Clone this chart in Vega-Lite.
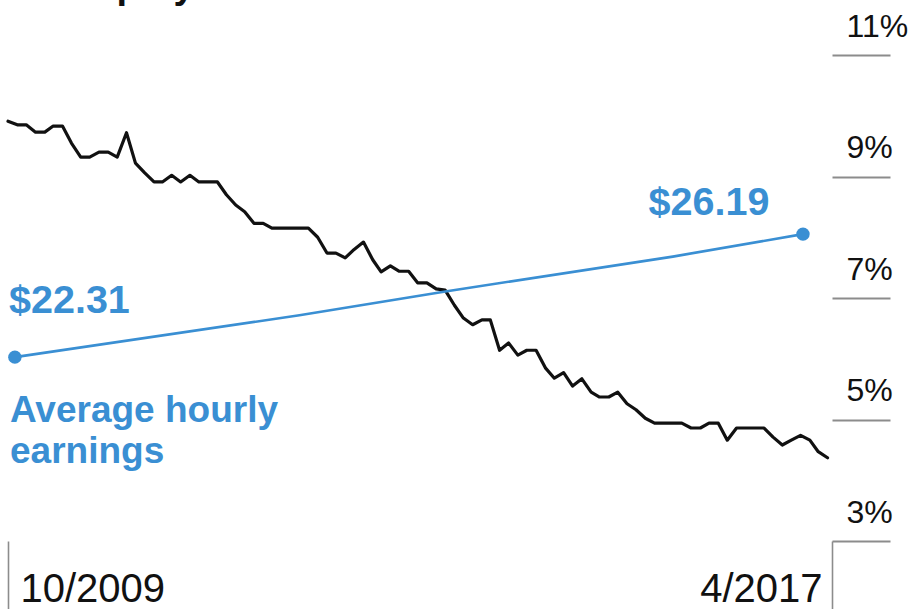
{
  "$schema": "https://vega.github.io/schema/vega-lite/v6.json",
  "width": 824,
  "height": 486,
  "autosize": {"type": "none"},
  "padding": {"left": 8, "top": 55, "right": 79, "bottom": 68},
  "background": "white",
  "config": {"view": {"stroke": null}, "font": "Liberation Sans"},
  "datasets": {
    "unemp": [
      {"date": "2009-10-01", "rate": 9.91}, {"date": "2009-11-01", "rate": 9.85}, {"date": "2009-12-01", "rate": 9.85},
      {"date": "2010-01-01", "rate": 9.73}, {"date": "2010-02-01", "rate": 9.73}, {"date": "2010-03-01", "rate": 9.83},
      {"date": "2010-04-01", "rate": 9.83}, {"date": "2010-05-01", "rate": 9.55}, {"date": "2010-06-01", "rate": 9.32},
      {"date": "2010-07-01", "rate": 9.32}, {"date": "2010-08-01", "rate": 9.40}, {"date": "2010-09-01", "rate": 9.40},
      {"date": "2010-10-01", "rate": 9.32}, {"date": "2010-11-01", "rate": 9.72}, {"date": "2010-12-01", "rate": 9.22},
      {"date": "2011-01-01", "rate": 9.06}, {"date": "2011-02-01", "rate": 8.91}, {"date": "2011-03-01", "rate": 8.91},
      {"date": "2011-04-01", "rate": 9.02}, {"date": "2011-05-01", "rate": 8.91}, {"date": "2011-06-01", "rate": 9.02},
      {"date": "2011-07-01", "rate": 8.91}, {"date": "2011-08-01", "rate": 8.91}, {"date": "2011-09-01", "rate": 8.91},
      {"date": "2011-10-01", "rate": 8.70}, {"date": "2011-11-01", "rate": 8.53}, {"date": "2011-12-01", "rate": 8.42},
      {"date": "2012-01-01", "rate": 8.23}, {"date": "2012-02-01", "rate": 8.23}, {"date": "2012-03-01", "rate": 8.15},
      {"date": "2012-04-01", "rate": 8.15}, {"date": "2012-05-01", "rate": 8.15}, {"date": "2012-06-01", "rate": 8.15},
      {"date": "2012-07-01", "rate": 8.15}, {"date": "2012-08-01", "rate": 8.00}, {"date": "2012-09-01", "rate": 7.74},
      {"date": "2012-10-01", "rate": 7.74}, {"date": "2012-11-01", "rate": 7.66}, {"date": "2012-12-01", "rate": 7.80},
      {"date": "2013-01-01", "rate": 7.92}, {"date": "2013-02-01", "rate": 7.63}, {"date": "2013-03-01", "rate": 7.43},
      {"date": "2013-04-01", "rate": 7.53}, {"date": "2013-05-01", "rate": 7.44}, {"date": "2013-06-01", "rate": 7.44},
      {"date": "2013-07-01", "rate": 7.25}, {"date": "2013-08-01", "rate": 7.25}, {"date": "2013-09-01", "rate": 7.15},
      {"date": "2013-10-01", "rate": 7.13}, {"date": "2013-11-01", "rate": 6.88}, {"date": "2013-12-01", "rate": 6.67},
      {"date": "2014-01-01", "rate": 6.56}, {"date": "2014-02-01", "rate": 6.64}, {"date": "2014-03-01", "rate": 6.64},
      {"date": "2014-04-01", "rate": 6.14}, {"date": "2014-05-01", "rate": 6.26}, {"date": "2014-06-01", "rate": 6.06},
      {"date": "2014-07-01", "rate": 6.14}, {"date": "2014-08-01", "rate": 6.14}, {"date": "2014-09-01", "rate": 5.85},
      {"date": "2014-10-01", "rate": 5.68}, {"date": "2014-11-01", "rate": 5.77}, {"date": "2014-12-01", "rate": 5.55},
      {"date": "2015-01-01", "rate": 5.67}, {"date": "2015-02-01", "rate": 5.45}, {"date": "2015-03-01", "rate": 5.37},
      {"date": "2015-04-01", "rate": 5.37}, {"date": "2015-05-01", "rate": 5.45}, {"date": "2015-06-01", "rate": 5.26},
      {"date": "2015-07-01", "rate": 5.16}, {"date": "2015-08-01", "rate": 5.02}, {"date": "2015-09-01", "rate": 4.94},
      {"date": "2015-10-01", "rate": 4.94}, {"date": "2015-11-01", "rate": 4.94}, {"date": "2015-12-01", "rate": 4.94},
      {"date": "2016-01-01", "rate": 4.86}, {"date": "2016-02-01", "rate": 4.86}, {"date": "2016-03-01", "rate": 4.94},
      {"date": "2016-04-01", "rate": 4.94}, {"date": "2016-05-01", "rate": 4.66}, {"date": "2016-06-01", "rate": 4.86},
      {"date": "2016-07-01", "rate": 4.86}, {"date": "2016-08-01", "rate": 4.86}, {"date": "2016-09-01", "rate": 4.86},
      {"date": "2016-10-01", "rate": 4.71}, {"date": "2016-11-01", "rate": 4.58}, {"date": "2016-12-01", "rate": 4.66},
      {"date": "2017-01-01", "rate": 4.74}, {"date": "2017-02-01", "rate": 4.66}, {"date": "2017-03-01", "rate": 4.47},
      {"date": "2017-04-01", "rate": 4.37}
    ],
    "earn": [
      {"date": "2009-10-24", "wage": 22.31},
      {"date": "2012-06-01", "wage": 23.63},
      {"date": "2013-10-07", "wage": 24.39},
      {"date": "2015-11-01", "wage": 25.48},
      {"date": "2017-01-09", "wage": 26.19}
    ]
  },
  "resolve": {"scale": {"y": "independent"}},
  "layer": [
    {
      "data": {"name": "unemp"},
      "mark": {"type": "line", "color": "#111111", "strokeWidth": 3.2, "strokeJoin": "round", "strokeCap": "round"},
      "encoding": {
        "x": {
          "field": "date", "type": "temporal",
          "scale": {"type": "utc", "domain": [{"year": 2009, "month": 10, "date": 1, "utc": true}, {"year": 2017, "month": 4, "date": 16, "utc": true}]},
          "axis": {
            "orient": "bottom", "title": null, "domain": false, "grid": false,
            "values": [{"year": 2009, "month": 10, "date": 1, "utc": true}, {"year": 2017, "month": 4, "date": 16, "utc": true}],
            "format": "%-m/%Y",
            "tickSize": 68, "tickColor": "#8c8c8c", "tickWidth": 1.6,
            "labelFontSize": 40, "labelColor": "#111111", "labelFont": "Liberation Sans",
            "labelFlush": true, "labelFlushOffset": -11, "labelOffset": 1,
            "labelBaseline": "alphabetic", "labelPadding": -8,
            "labelOverlap": false, "labelBound": false
          }
        },
        "y": {
          "field": "rate", "type": "quantitative",
          "scale": {"domain": [3, 11], "nice": false, "zero": false},
          "axis": {
            "orient": "right", "title": null, "domain": false, "grid": false,
            "values": [3, 5, 7, 9, 11],
            "labelExpr": "datum.value + '%'",
            "tickSize": 58, "tickColor": "#8c8c8c", "tickWidth": 2,
            "labelAlign": "left", "labelBaseline": "alphabetic",
            "labelPadding": -44, "labelOffset": -19,
            "labelFontSize": 32, "labelColor": "#111111", "labelFont": "Liberation Sans",
            "labelOverlap": false, "labelBound": false
          }
        }
      }
    },
    {
      "data": {"name": "earn"},
      "mark": {"type": "line", "color": "#3a8fd3", "strokeWidth": 2.6},
      "encoding": {
        "x": {"field": "date", "type": "temporal"},
        "y": {"field": "wage", "type": "quantitative", "scale": {"domain": [16.51, 31.84], "nice": false, "zero": false}, "axis": null}
      }
    },
    {
      "data": {"name": "earn"},
      "transform": [{"filter": "datum.wage == 22.31 || datum.wage == 26.19"}],
      "mark": {"type": "point", "filled": true, "color": "#3a8fd3", "size": 180, "opacity": 1},
      "encoding": {
        "x": {"field": "date", "type": "temporal"},
        "y": {"field": "wage", "type": "quantitative", "scale": {"domain": [16.51, 31.84], "nice": false, "zero": false}, "axis": null}
      }
    },
    {
      "data": {"values": [{}]},
      "mark": {"type": "text", "align": "left", "baseline": "alphabetic", "fontSize": 39.5, "fontWeight": "bold", "color": "#3a8fd3", "dx": 1, "font": "Liberation Sans"},
      "encoding": {
        "x": {"datum": {"year": 2009, "month": 10, "date": 1, "utc": true}, "type": "temporal"},
        "y": {"datum": 6.75, "type": "quantitative", "scale": {"domain": [3, 11], "nice": false, "zero": false}, "axis": null},
        "text": {"value": "$22.31"}
      }
    },
    {
      "data": {"values": [{}]},
      "mark": {"type": "text", "align": "center", "baseline": "alphabetic", "fontSize": 39.5, "fontWeight": "bold", "color": "#3a8fd3", "font": "Liberation Sans"},
      "encoding": {
        "x": {"datum": {"year": 2016, "month": 3, "date": 1, "utc": true}, "type": "temporal"},
        "y": {"datum": 8.37, "type": "quantitative", "scale": {"domain": [3, 11], "nice": false, "zero": false}, "axis": null},
        "text": {"value": "$26.19"}
      }
    },
    {
      "data": {"values": [{}]},
      "mark": {"type": "text", "align": "left", "baseline": "alphabetic", "fontSize": 37, "fontWeight": "bold", "color": "#3a8fd3", "dx": 2, "lineHeight": 41, "font": "Liberation Sans"},
      "encoding": {
        "x": {"datum": {"year": 2009, "month": 10, "date": 1, "utc": true}, "type": "temporal"},
        "y": {"datum": 4.96, "type": "quantitative", "scale": {"domain": [3, 11], "nice": false, "zero": false}, "axis": null},
        "text": {"value": ["Average hourly", "earnings"]}
      }
    },
    {
      "data": {"values": [{}]},
      "mark": {"type": "text", "align": "left", "baseline": "alphabetic", "fontSize": 38, "fontWeight": "bold", "color": "#111111", "dx": 3, "font": "Liberation Sans"},
      "encoding": {
        "x": {"datum": {"year": 2009, "month": 10, "date": 1, "utc": true}, "type": "temporal"},
        "y": {"datum": 11.94, "type": "quantitative", "scale": {"domain": [3, 11], "nice": false, "zero": false}, "axis": null},
        "text": {"value": "Unemployment"}
      }
    }
  ]
}
